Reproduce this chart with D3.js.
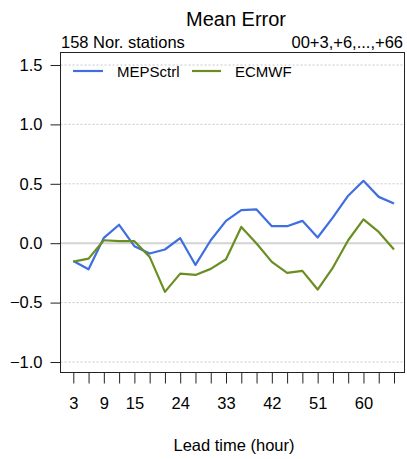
<!DOCTYPE html>
<html><head><meta charset="utf-8">
<script src="https://cdn.jsdelivr.net/npm/d3@7"></script>
<style>body{margin:0;background:#fff}svg{display:block}text{font-family:"Liberation Sans",Arial,sans-serif;fill:#000}</style>
</head><body><svg id="c" width="407" height="459"></svg>
<script>
const leadTimes = [3,6,9,12,15,18,21,24,27,30,33,36,39,42,45,48,51,54,57,60,63,66];
const mepsctrl = [-0.15,-0.22,0.045,0.155,-0.025,-0.087,-0.053,0.042,-0.183,0.025,0.188,0.278,0.284,0.143,0.143,0.188,0.048,0.217,0.40,0.525,0.39,0.335];
const ecmwf = [-0.155,-0.13,0.025,0.017,0.017,-0.115,-0.41,-0.256,-0.267,-0.216,-0.135,0.137,-0.003,-0.157,-0.25,-0.233,-0.39,-0.205,0.025,0.20,0.095,-0.053];
const xTickLabels = [3,9,15,24,33,42,51,60];
const yTicks = [-1.0,-0.5,0.0,0.5,1.0,1.5];
const seriesNames = ["MEPSctrl","ECMWF"];
const seriesColors = ["#3e6ee0","#6b8e23"];

const svg = d3.select("#c");
const box = {l:60.5, r:404.5, t:52.5, b:372.5};
const x = d3.scaleLinear().domain([3,66]).range([73.3,394]);
const y = d3.scaleLinear().domain([-1,1.5]).range([362,65]);
const FS = 16.5;

// grid
svg.append("g").selectAll("line").data(yTicks.filter(d=>d!==0)).join("line")
  .attr("x1",box.l).attr("x2",box.r).attr("y1",d=>y(d)).attr("y2",d=>y(d))
  .attr("stroke","#c8c8c8").attr("stroke-width",1).attr("stroke-dasharray","2,2");
svg.append("line").attr("x1",box.l).attr("x2",box.r).attr("y1",y(0)).attr("y2",y(0))
  .attr("stroke","#d3d3d3").attr("stroke-width",2);

// lines
const line = d3.line().x((d,i)=>x(leadTimes[i])).y(d=>y(d));
[mepsctrl,ecmwf].forEach((s,k)=>{
  svg.append("path").datum(s).attr("d",line).attr("fill","none")
    .attr("stroke",seriesColors[k]).attr("stroke-width",2.2).attr("stroke-linejoin","round");
});

// box
svg.append("rect").attr("x",box.l).attr("y",box.t).attr("width",box.r-box.l).attr("height",box.b-box.t)
  .attr("fill","none").attr("stroke","#222").attr("stroke-width",1);

// y axis
const ya = svg.append("g").attr("transform",`translate(${box.l},0)`)
  .call(d3.axisLeft(y).tickValues(yTicks).tickSize(10).tickPadding(8).tickFormat(d=>d3.format(".1f")(d).replace("-","\u2212")));
ya.select(".domain").remove();
ya.selectAll("line").attr("stroke","#222");
ya.selectAll("text").attr("font-size",FS).attr("font-family","Liberation Sans, Arial, sans-serif").attr("fill","#000");

// x axis
const xa = svg.append("g").attr("transform",`translate(0,${box.b})`)
  .call(d3.axisBottom(x).tickValues(leadTimes).tickSize(11).tickPadding(14).tickFormat(d=>xTickLabels.includes(d)?d:""));
xa.select(".domain").remove();
xa.selectAll("line").attr("stroke","#222");
xa.selectAll("text").attr("font-size",FS).attr("font-family","Liberation Sans, Arial, sans-serif").attr("fill","#000");

// titles
svg.append("text").attr("x",236).attr("y",26).attr("text-anchor","middle").attr("font-size",20).text("Mean Error");
svg.append("text").attr("x",61).attr("y",48).attr("font-size",FS).text("158 Nor. stations");
svg.append("text").attr("x",403).attr("y",48).attr("text-anchor","end").attr("font-size",FS).text("00+3,+6,...,+66");
svg.append("text").attr("x",234).attr("y",451).attr("text-anchor","middle").attr("font-size",FS).text("Lead time (hour)");

// legend
const lg = [{x1:73,x2:103,tx:117},{x1:192,x2:221,tx:235}];
lg.forEach((p,k)=>{
  svg.append("line").attr("x1",p.x1).attr("x2",p.x2).attr("y1",71).attr("y2",71)
    .attr("stroke",seriesColors[k]).attr("stroke-width",2.2);
  svg.append("text").attr("x",p.tx).attr("y",76.5).attr("font-size",15).text(seriesNames[k]);
});
</script></body></html>
